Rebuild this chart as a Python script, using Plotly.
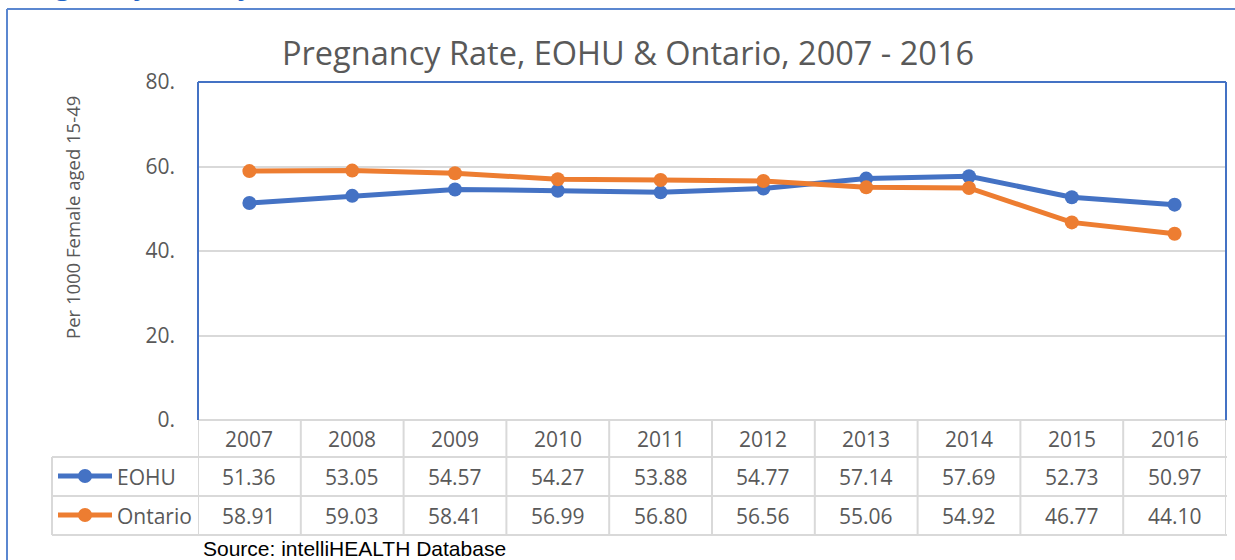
import plotly.graph_objects as go

# ---- data ----
years = ["2007", "2008", "2009", "2010", "2011", "2012", "2013", "2014", "2015", "2016"]
eohu = [51.36, 53.05, 54.57, 54.27, 53.88, 54.77, 57.14, 57.69, 52.73, 50.97]
ontario = [58.91, 59.03, 58.41, 56.99, 56.80, 56.56, 55.06, 54.92, 46.77, 44.10]
series_names = ["EOHU", "Ontario"]
y_ticks = [0, 20, 40, 60, 80]
y_tick_labels = ["0.", "20.", "40.", "60.", "80."]

BLUE = "#4472C4"
ORANGE = "#ED7D31"
GRID = "#D9D9D9"
TXT = "#595959"
FONT = "Open Sans"

W, H = 1235, 560
L, R, T, B = 198, 1226, 82, 420


def px(x):
    return (x - L) / (R - L)


def py(y):
    return (B - y) / (B - T)


fig = go.Figure()
xs = list(range(len(years)))
for name, vals, col in [(series_names[0], eohu, BLUE), (series_names[1], ontario, ORANGE)]:
    fig.add_trace(go.Scatter(
        x=xs, y=vals, mode="lines+markers", name=name,
        line=dict(color=col, width=5),
        marker=dict(color=col, size=14),
        showlegend=False, cliponaxis=False,
    ))

shapes = []
# outer frame (partial)
shapes.append(dict(type="line", xref="paper", yref="paper", x0=px(7), x1=px(1245), y0=py(9), y1=py(9),
                   line=dict(color="#5B87D0", width=2)))
shapes.append(dict(type="line", xref="paper", yref="paper", x0=px(7), x1=px(7), y0=py(9), y1=py(570),
                   line=dict(color="#5B87D0", width=2)))
# plot-area border (left, top, right)
for (x0, y0, x1, y1) in [(L, T, L, B), (L, T, R, T), (R, T, R, B)]:
    shapes.append(dict(type="line", xref="paper", yref="paper", x0=px(x0), x1=px(x1), y0=py(y0), y1=py(y1),
                       line=dict(color=BLUE, width=2)))

# data table grid
row_y = [420, 457, 496, 535]
leg_left = 52
for i, yy in enumerate(row_y):
    x0 = L if i == 0 else leg_left
    shapes.append(dict(type="line", xref="paper", yref="paper", x0=px(x0), x1=px(R + 1), y0=py(yy), y1=py(yy),
                       line=dict(color=GRID, width=2), layer="below"))
for k in range(len(years) + 1):
    shapes.append(dict(type="line", xref="x", yref="paper", x0=k - 0.5, x1=k - 0.5, y0=py(420), y1=py(535),
                       line=dict(color=GRID, width=2)))
shapes.append(dict(type="line", xref="paper", yref="paper", x0=px(leg_left), x1=px(leg_left), y0=py(457), y1=py(535),
                   line=dict(color=GRID, width=2)))

annotations = []
# title
annotations.append(dict(text="Pregnancy Rate, EOHU & Ontario, 2007 - 2016", xref="paper", yref="paper",
                        x=px(628), y=py(52), xanchor="center", yanchor="middle", showarrow=False,
                        font=dict(family=FONT, size=32.5, color=TXT)))
# cropped heading above frame (only descenders visible)
annotations.append(dict(text="<b>Pregnancy Rate by Year</b>", xref="paper", yref="paper",
                        x=px(10), y=py(5), xanchor="left", yanchor="bottom", showarrow=False,
                        font=dict(family=FONT, size=26, color="#1F64C8")))
# y-axis title
annotations.append(dict(text="Per 1000 Female aged 15-49", xref="paper", yref="paper",
                        x=px(73), y=py(218), xanchor="center", yanchor="middle", textangle=-90,
                        showarrow=False, font=dict(family=FONT, size=18.5, color=TXT)))
# table header & values
for k, yr in enumerate(years):
    annotations.append(dict(text=yr, xref="x", yref="paper", x=k, y=py(439), showarrow=False,
                            xanchor="center", yanchor="middle", font=dict(family=FONT, size=21, color=TXT)))
    for vals, ymid in [(eohu, 477), (ontario, 516)]:
        annotations.append(dict(text=f"{vals[k]:.2f}", xref="x", yref="paper", x=k, y=py(ymid), showarrow=False,
                                xanchor="center", yanchor="middle", font=dict(family=FONT, size=21, color=TXT)))
# legend keys in table
for name, col, ymid in [(series_names[0], BLUE, 476), (series_names[1], ORANGE, 515)]:
    shapes.append(dict(type="line", xref="paper", yref="paper", x0=px(58), x1=px(112), y0=py(ymid), y1=py(ymid),
                       line=dict(color=col, width=5)))
    shapes.append(dict(type="circle", xref="paper", yref="paper", x0=px(78), x1=px(92),
                       y0=py(ymid + 7), y1=py(ymid - 7), fillcolor=col, line=dict(color=col, width=0)))
    annotations.append(dict(text=name, xref="paper", yref="paper", x=px(115), y=py(ymid + 1), showarrow=False,
                            xanchor="left", yanchor="middle", font=dict(family=FONT, size=21, color=TXT)))
# source
annotations.append(dict(text="Source: intelliHEALTH Database", xref="paper", yref="paper",
                        x=px(201), y=py(548), xanchor="left", yanchor="middle", showarrow=False,
                        font=dict(family="Liberation Sans", size=21, color="#000000")))

fig.update_layout(
    width=W, height=H,
    margin=dict(l=L, r=W - R, t=T, b=H - B, pad=0),
    paper_bgcolor="white", plot_bgcolor="white",
    xaxis=dict(range=[-0.5, len(years) - 0.5], showticklabels=False, showgrid=False, zeroline=False,
               showline=False, fixedrange=True),
    yaxis=dict(range=[0, 80], tickvals=y_ticks, ticktext=y_tick_labels, showgrid=True, gridcolor=GRID,
               gridwidth=1.5, zeroline=False, showline=False, ticks="", ticklabelstandoff=22,
               tickfont=dict(family=FONT, size=21, color=TXT)),
    shapes=shapes, annotations=annotations,
)

fig.write_html("out.html", config={"displayModeBar": False},
               post_script="document.body.style.margin='0px';document.body.style.overflow='hidden';")
